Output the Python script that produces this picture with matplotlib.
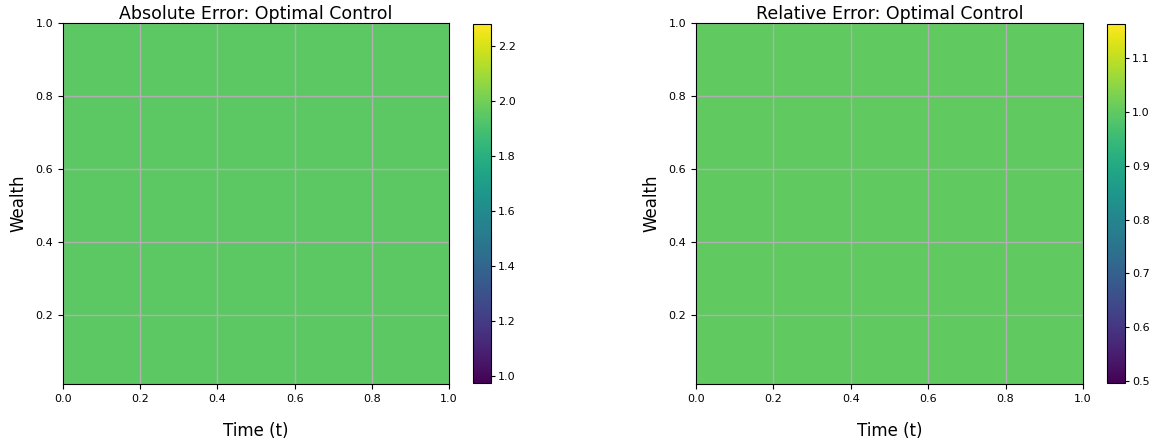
import numpy as np
import matplotlib
matplotlib.use("Agg")
import matplotlib.pyplot as plt

# Data
time_grid = [0.0, 0.1, 0.2, 0.3, 0.4, 0.5, 0.6, 0.7, 0.8, 0.9, 1.0]
wealth_grid = [0.01, 0.1, 0.2, 0.3, 0.4, 0.5, 0.6, 0.7, 0.8, 0.9, 1.0]
abs_error_value = 1.95
rel_error_value = 1.0
abs_range = (0.975, 2.28)
rel_range = (0.496, 1.164)
titles = ["Absolute Error: Optimal Control", "Relative Error: Optimal Control"]
xticks = [0.0, 0.2, 0.4, 0.6, 0.8, 1.0]
yticks = [0.2, 0.4, 0.6, 0.8, 1.0]

W, H = 1156, 446
fig = plt.figure(figsize=(W / 100, H / 100), dpi=100)

def px(x0, y0, x1, y1):
    return [x0 / W, (H - y1) / H, (x1 - x0) / W, (y1 - y0) / H]

axes_pos = [px(63, 23, 449, 384), px(696, 23, 1083, 384)]
cbar_pos = [px(473, 24, 491, 383), px(1107, 24, 1125, 383)]
values = [abs_error_value, rel_error_value]
ranges = [abs_range, rel_range]

T, Wm = np.meshgrid(time_grid, wealth_grid)
for i in range(2):
    ax = fig.add_axes(axes_pos[i])
    Z = np.full(T.shape, values[i])
    mesh = ax.pcolormesh(T, Wm, Z, cmap="viridis", vmin=ranges[i][0],
                         vmax=ranges[i][1], shading="gouraud")
    ax.set_xlim(0, 1)
    ax.set_ylim(0.01, 1.0)
    ax.set_xticks(xticks)
    ax.set_yticks(yticks)
    ax.tick_params(labelsize=8)
    ax.grid(True, color="#b0b0b0", linewidth=1.0)
    ax.set_title(titles[i], fontsize=12.5, pad=3)
    ax.set_xlabel("Time (t)", fontsize=12, labelpad=13)
    ax.set_ylabel("Wealth", fontsize=12, labelpad=6)
    cax = fig.add_axes(cbar_pos[i])
    cb = fig.colorbar(mesh, cax=cax)
    cb.ax.tick_params(labelsize=8, length=3, pad=2)

fig.savefig("out.png", dpi=100)
